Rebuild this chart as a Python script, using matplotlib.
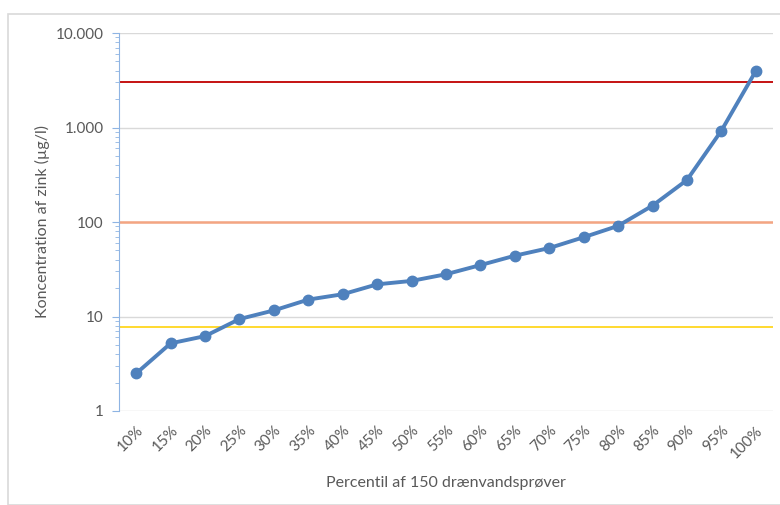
import matplotlib
matplotlib.use("Agg")
import matplotlib.pyplot as plt
from matplotlib.patches import Rectangle
from matplotlib.ticker import FixedLocator, LogLocator, NullFormatter, FuncFormatter

plt.rcParams['font.family'] = ['Lato', 'DejaVu Sans']

percentiles = ["10%", "15%", "20%", "25%", "30%", "35%", "40%", "45%", "50%", "55%",
               "60%", "65%", "70%", "75%", "80%", "85%", "90%", "95%", "100%"]
zink = [2.5, 5.2, 6.2, 9.4, 11.6, 15.1, 17.2, 21.9, 23.8, 28,
        35, 44, 53, 69, 91, 149, 278, 925, 3960]

# grænseværdier
red_limit = 3000
orange_limit = 100
yellow_limit = 7.8

text_col = "#595959"

fig = plt.figure(figsize=(7.8, 5.05), dpi=100)
fig.patches.append(Rectangle((8 / 780, 0), 1, 1 - 14 / 505, transform=fig.transFigure,
                             fill=False, edgecolor="#D9D9D9", linewidth=1.2))
ax = fig.add_axes([119 / 780, 94 / 505, 654 / 780, 378 / 505])

x = list(range(len(percentiles)))
ax.set_yscale("log")
ax.set_ylim(1, 10000)
ax.set_xlim(-0.5, len(percentiles) - 0.5)

ax.yaxis.set_major_locator(FixedLocator([1, 10, 100, 1000, 10000]))
ax.yaxis.set_major_formatter(FuncFormatter(lambda v, p: f"{int(round(v)):,}".replace(",", ".")))
ax.yaxis.set_minor_locator(LogLocator(base=10, subs=range(2, 10)))
ax.yaxis.set_minor_formatter(NullFormatter())
ax.grid(axis="y", which="major", color="#D9D9D9", linewidth=1)
ax.set_axisbelow(True)

ax.axhline(red_limit, color="#C00000", linewidth=1.3, zorder=2)
ax.axhline(orange_limit, color="#F4A582", linewidth=1.8, zorder=2)
ax.axhline(yellow_limit, color="#FFD92F", linewidth=1.4, zorder=2)

ax.plot(x, zink, color="#4F81BD", linewidth=2.8, marker="o", markersize=7.5, zorder=3)

for s in ["top", "right", "bottom"]:
    ax.spines[s].set_visible(False)
ax.spines["left"].set_color("#8EB4E3")
ax.tick_params(axis="y", which="major", colors="#8EB4E3", labelcolor=text_col,
               length=5, labelsize=11, pad=6)
ax.tick_params(axis="y", which="minor", colors="#8EB4E3", length=3)
ax.tick_params(axis="x", length=0, labelcolor=text_col, labelsize=11, pad=9)

ax.set_xticks(x)
ax.set_xticklabels(percentiles, rotation=45, ha="right", rotation_mode="anchor")

ax.set_ylabel("Koncentration af zink (µg/l)", color=text_col, fontsize=11.5, labelpad=4)
ax.set_xlabel("Percentil af 150 drænvandsprøver", color=text_col, fontsize=11.5, labelpad=11)

fig.savefig("out.png", dpi=100)
